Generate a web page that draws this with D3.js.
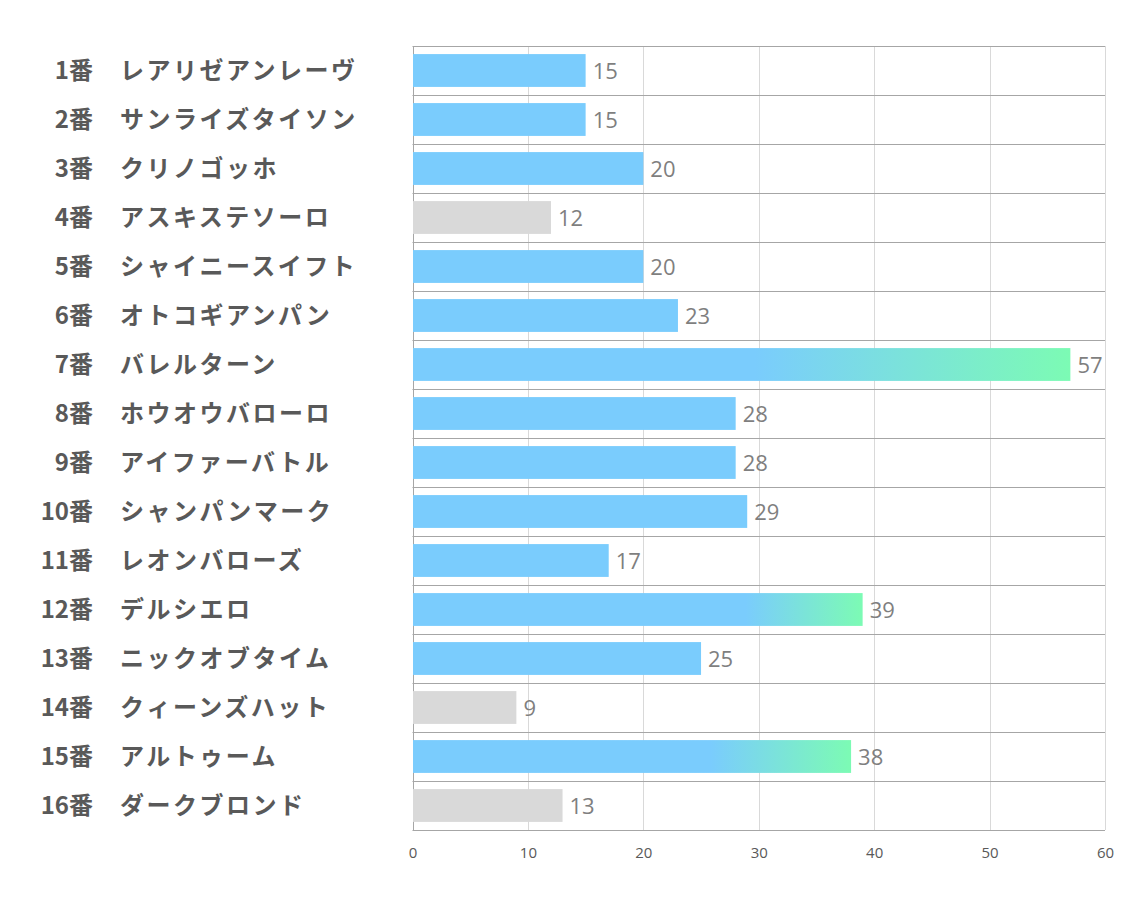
<!DOCTYPE html>
<html><head><meta charset="utf-8">
<script src="https://cdn.jsdelivr.net/npm/d3@7"></script>
<style>body{margin:0;background:#fff}</style>
</head><body>
<script>
const numbers = ["1番","2番","3番","4番","5番","6番","7番","8番","9番","10番","11番","12番","13番","14番","15番","16番"];
const names = ["レアリゼアンレーヴ","サンライズタイソン","クリノゴッホ","アスキステソーロ","シャイニースイフト","オトコギアンパン","バレルターン","ホウオウバローロ","アイファーバトル","シャンパンマーク","レオンバローズ","デルシエロ","ニックオブタイム","クィーンズハット","アルトゥーム","ダークブロンド"];
const values = [15,15,20,12,20,23,57,28,28,29,17,39,25,9,38,13];
const kinds = ["blue","blue","blue","gray","blue","blue","grad","blue","blue","blue","blue","grad","blue","gray","grad","gray"];
const gradStart = [0,0,0,0,0,0,0.52,0,0,0,0,0.74,0,0,0.68,0];
const ticks = [0,10,20,30,40,50,60];

(function(){
const W=1134,H=907;
const svg=d3.select("body").append("svg").attr("width",W).attr("height",H);
const pLeft=412.5,pRight=1105,pTop=46,pBottom=830;
const x=d3.scaleLinear().domain([0,60]).range([pLeft,pRight]);
const y=d3.scaleBand().domain(d3.range(numbers.length)).range([pTop,pBottom]).paddingInner(0.33).paddingOuter(0.165);
const yRow=d3.scaleBand().domain(d3.range(numbers.length)).range([pTop,pBottom]);

const defs=svg.append("defs");
values.forEach((v,i)=>{
  if(kinds[i]!=="grad")return;
  const g=defs.append("linearGradient").attr("id","g"+i).attr("x1",0).attr("x2",1).attr("y1",0).attr("y2",0);
  g.append("stop").attr("offset",0).attr("stop-color","#7accfd");
  g.append("stop").attr("offset",gradStart[i]).attr("stop-color","#7accfd");
  g.append("stop").attr("offset",1).attr("stop-color","#7cfbb4");
});

svg.append("g").selectAll("line").data(ticks).join("line")
  .attr("x1",d=>Math.round(x(d))+0.5).attr("x2",d=>Math.round(x(d))+0.5).attr("y1",pTop).attr("y2",pBottom)
  .attr("stroke",d=>d===0?"#a6a6a6":"#d9d9d9").attr("stroke-width",1);
svg.append("g").selectAll("line").data(d3.range(numbers.length+1)).join("line")
  .attr("x1",pLeft).attr("x2",pRight)
  .attr("y1",d=>Math.round(pTop+d*yRow.step())+0.5).attr("y2",d=>Math.round(pTop+d*yRow.step())+0.5)
  .attr("stroke","#a6a6a6").attr("stroke-width",1);

svg.append("g").selectAll("rect").data(values).join("rect")
  .attr("x",x(0)+0.5).attr("y",(d,i)=>y(i)).attr("height",y.bandwidth())
  .attr("width",d=>x(d)-x(0)-0.5)
  .attr("fill",(d,i)=>kinds[i]==="gray"?"#d9d9d9":kinds[i]==="grad"?`url(#g${i})`:"#7accfd");

svg.append("g").selectAll("text").data(values).join("text")
  .attr("x",d=>x(d)+7).attr("y",(d,i)=>y(i)+y.bandwidth()/2+1)
  .attr("dy","0.36em").attr("font-family","'Open Sans',sans-serif").attr("font-size",22)
  .attr("fill","#7f7f7f").text(d=>d);

const lab=svg.append("g").attr("font-family","'Noto Sans CJK JP',sans-serif").attr("font-weight","bold").attr("font-size",24).attr("fill","#595959");
lab.selectAll("text.n").data(numbers).join("text").attr("class","n")
  .attr("x",93).attr("y",(d,i)=>yRow(i)+yRow.bandwidth()/2).attr("dy","0.36em").attr("text-anchor","end").text(d=>d);
lab.selectAll("text.m").data(names).join("text").attr("class","m")
  .attr("x",120).attr("y",(d,i)=>yRow(i)+yRow.bandwidth()/2).attr("dy","0.36em").attr("letter-spacing",2.5).text(d=>d);

const ax=d3.axisBottom(x).tickValues(ticks).tickSize(0).tickPadding(0);
const axg=svg.append("g").attr("transform",`translate(0,${pBottom})`).call(ax);
axg.select(".domain").remove();
axg.selectAll("text").attr("y",17).attr("font-family","'Open Sans',sans-serif").attr("font-size",15).attr("fill","#595959");
})();
</script>
</body></html>
